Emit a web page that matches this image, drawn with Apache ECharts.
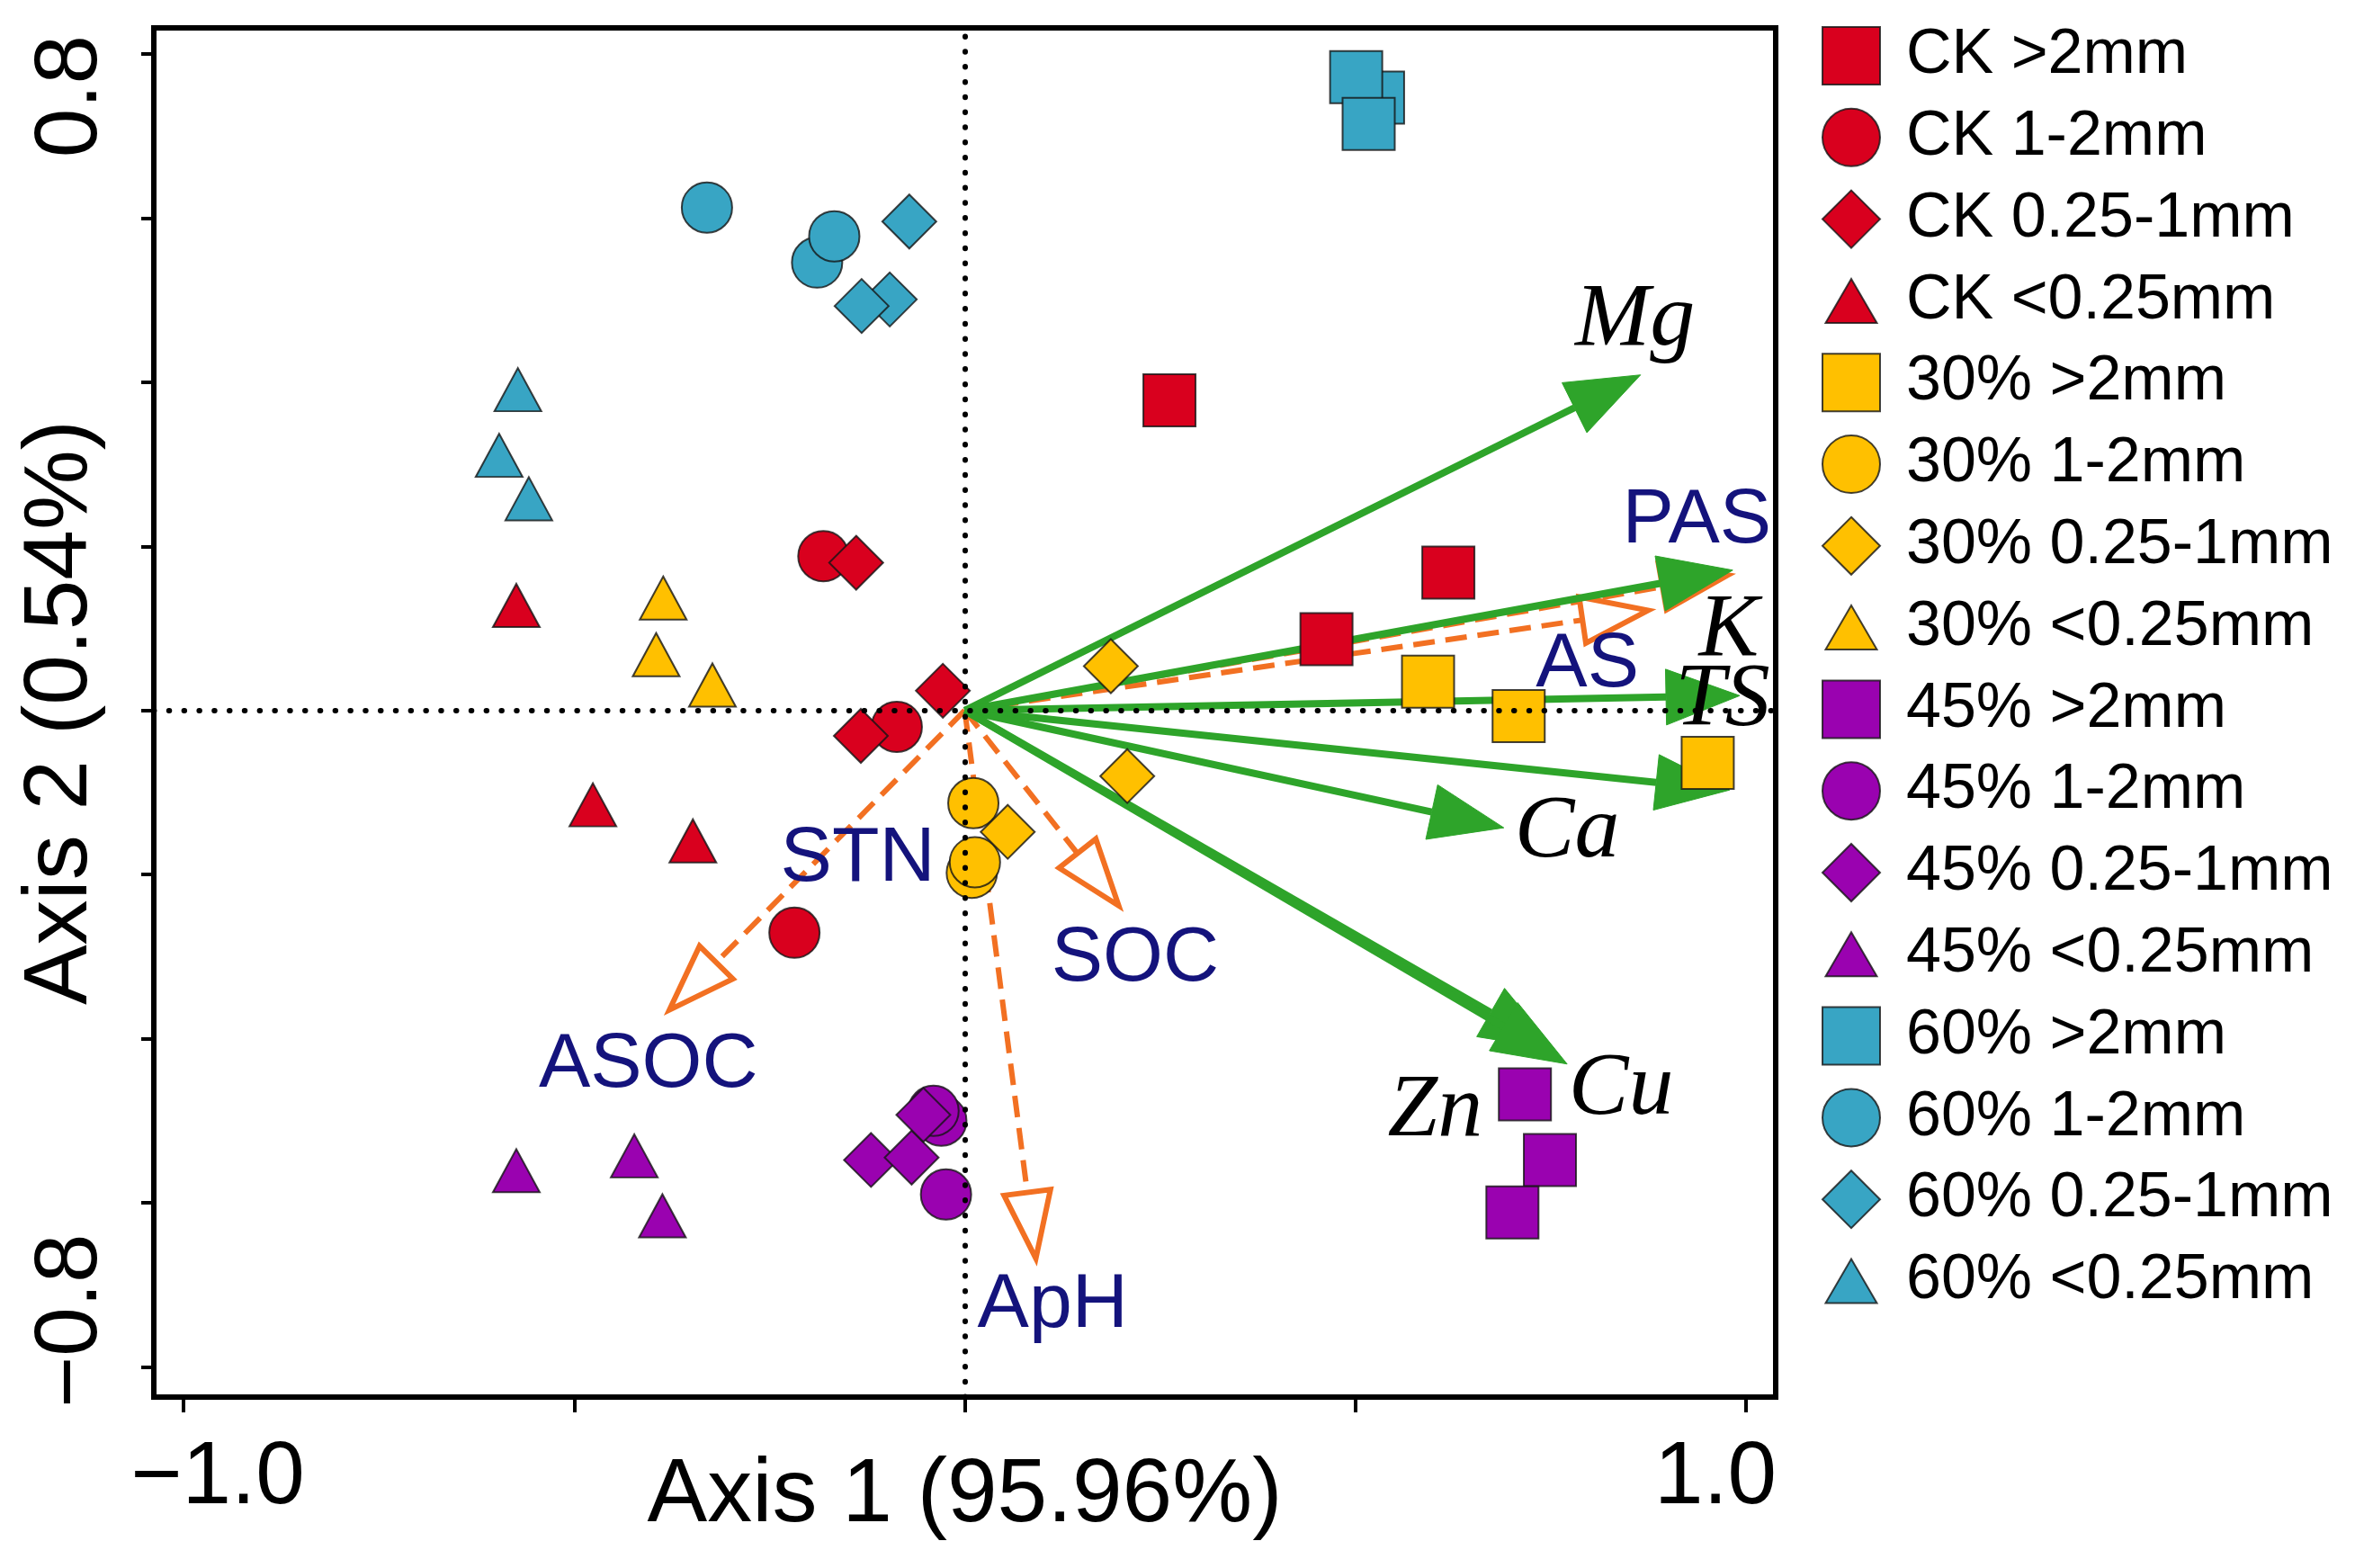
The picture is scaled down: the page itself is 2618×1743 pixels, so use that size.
<!DOCTYPE html>
<html>
<head>
<meta charset="utf-8">
<script src="https://cdn.jsdelivr.net/npm/echarts@6/dist/echarts.min.js"></script>
<style>
  html, body { margin: 0; padding: 0; background: #ffffff; }
  #chart { width: 2618px; height: 1743px; }
</style>
</head>
<body>
<div id="chart"></div>
<script>
// ---------- Axis ticks / labels ----------
const xTickValues = [-1, -0.5, 0, 0.5, 1];
const xLabelValues = [-1, 1];
const yTickValues = [-0.8, -0.6, -0.4, -0.2, 0, 0.2, 0.4, 0.6, 0.8];
const yLabelValues = [-0.8, 0.8];
const xAxisName = 'Axis 1 (95.96%)';
const yAxisName = 'Axis 2 (0.54%)';

// ---------- Sample scores (Axis 1, Axis 2) ----------
const CK_gt2   = [[0.262, 0.378], [0.619, 0.168], [0.463, 0.087]];
const CK_1_2   = [[-0.181, 0.188], [-0.087, -0.020], [-0.218, -0.271]];
const CK_025_1 = [[-0.139, 0.180], [-0.028, 0.024], [-0.133, -0.031]];
const CK_lt025 = [[-0.574, 0.128], [-0.476, -0.115], [-0.348, -0.159]];

const P30_gt2   = [[0.593, 0.035], [0.709, -0.007], [0.951, -0.064]];
const P30_1_2   = [[0.009, -0.198], [0.011, -0.113], [0.013, -0.185]];
const P30_025_1 = [[0.187, 0.054], [0.208, -0.080], [0.055, -0.148]];
const P30_lt025 = [[-0.386, 0.137], [-0.395, 0.068], [-0.323, 0.031]];

const P45_gt2   = [[0.717, -0.468], [0.749, -0.548], [0.701, -0.612]];
const P45_1_2   = [[-0.030, -0.500], [-0.040, -0.488], [-0.024, -0.590]];
const P45_025_1 = [[-0.120, -0.548], [-0.068, -0.545], [-0.053, -0.493]];
const P45_lt025 = [[-0.574, -0.561], [-0.423, -0.543], [-0.387, -0.616]];

const P60_gt2   = [[0.529, 0.747], [0.501, 0.772], [0.517, 0.715]];
const P60_1_2   = [[-0.330, 0.613], [-0.189, 0.546], [-0.167, 0.578]];
const P60_025_1 = [[-0.096, 0.501], [-0.071, 0.596], [-0.132, 0.493]];
const P60_lt025 = [[-0.572, 0.391], [-0.596, 0.311], [-0.558, 0.258]];

const treatments = ['CK', '30%', '45%', '60%'];
const sizeClasses = ['>2mm', '1-2mm', '0.25-1mm', '<0.25mm'];
const treatmentColors = ['#d9001e', '#ffc000', '#9a02b0', '#38a5c4'];
const sampleData = [
  [CK_gt2, CK_1_2, CK_025_1, CK_lt025],
  [P30_gt2, P30_1_2, P30_025_1, P30_lt025],
  [P45_gt2, P45_1_2, P45_025_1, P45_lt025],
  [P60_gt2, P60_1_2, P60_025_1, P60_lt025]
];

// ---------- Environmental vectors (green, solid) ----------
const envTipX = [0.865, 0.983, 0.992, 0.979, 0.690, 0.755, 0.771];
const envTipY = [0.409, 0.171, 0.018, -0.097, -0.143, -0.413, -0.431];
const envLabelNames = ['Mg', 'K', 'TS', 'Ca', 'Zn', 'Cu'];
const envLabelX = [0.858, 0.978, 0.970, 0.771, 0.602, 0.840];
const envLabelY = [0.475, 0.097, 0.012, -0.149, -0.489, -0.463];

// ---------- Soil property vectors (orange, dashed) ----------
const soilTipX = [0.977, 0.875, 0.197, -0.378, 0.091];
const soilTipY = [0.165, 0.122, -0.238, -0.365, -0.668];
const soilLabelNames = ['PAS', 'AS', 'STN', 'SOC', 'ASOC', 'ApH'];
const soilLabelX = [0.937, 0.797, -0.137, 0.218, -0.405, 0.1125];
const soilLabelY = [0.231, 0.055, -0.182, -0.303, -0.433, -0.726];

// ---------- Build ----------
const green = '#2ea42a';
const orange = '#f27022';
const navy = '#14137c';
const symbols = ['rect', 'circle', 'diamond', 'triangle'];
const symbolSizes = [58, 56, 60, [52, 48]];
const triIcon = 'path://M0,0M64,64M3.5,56.5L32,7.5L60.5,56.5Z';
const legendIcons = ['rect', 'circle', 'diamond', triIcon];
const sans = '"Liberation Sans", Arial, sans-serif';

function fmt(v) { return (v < 0 ? '\u2212' : '') + Math.abs(v).toFixed(1); }

function arrowRender(color, dashed, hollow, headLen, headHalf, lw) {
  return function (params, api) {
    const o = api.coord([0, 0]);
    const t = api.coord([api.value(0), api.value(1)]);
    const dx = t[0] - o[0], dy = t[1] - o[1];
    const L = Math.sqrt(dx * dx + dy * dy);
    const ux = dx / L, uy = dy / L;
    const bx = t[0] - ux * headLen, by = t[1] - uy * headLen;
    const px = -uy, py = ux;
    return {
      type: 'group',
      children: [
        {
          type: 'line',
          shape: { x1: o[0], y1: o[1], x2: bx, y2: by },
          style: { stroke: color, lineWidth: lw, lineDash: dashed ? [24, 12] : null, fill: null }
        },
        {
          type: 'polygon',
          shape: { points: [[t[0], t[1]], [bx + px * headHalf, by + py * headHalf], [bx - px * headHalf, by - py * headHalf]] },
          style: hollow ? { fill: '#ffffff', stroke: color, lineWidth: 6, lineJoin: 'miter' } : { fill: color, stroke: color, lineWidth: 1 }
        }
      ]
    };
  };
}

function textRender(names, font, color) {
  return function (params, api) {
    const p = api.coord([api.value(0), api.value(1)]);
    return {
      type: 'text',
      x: p[0], y: p[1],
      style: {
        text: names[params.dataIndex],
        font: font,
        fill: color,
        align: 'center',
        verticalAlign: 'middle'
      }
    };
  };
}

const series = [];
const legendData = [];

// reference dotted lines through the origin
series.push({
  type: 'scatter', name: '_ref', data: [], z: 1, silent: true,
  markLine: {
    silent: true, symbol: 'none', animation: false,
    label: { show: false },
    emphasis: { disabled: true },
    lineStyle: { color: '#000', width: 6, type: [0.5, 16.3], cap: 'round' },
    data: [{ xAxis: 0 }, { yAxis: 0 }]
  }
});

series.push({
  type: 'custom', name: '_soil', z: 2, silent: true,
  data: soilTipX.map((x, i) => [x, soilTipY[i]]),
  encode: { x: 0, y: 1 },
  renderItem: arrowRender(orange, true, true, 74, 26, 6)
});
series.push({
  type: 'custom', name: '_env', z: 3, silent: true,
  data: envTipX.map((x, i) => [x, envTipY[i]]),
  encode: { x: 0, y: 1 },
  renderItem: arrowRender(green, false, false, 82, 31, 8)
});

treatments.forEach((tr, ti) => {
  sizeClasses.forEach((sc, si) => {
    const name = tr + ' ' + sc;
    legendData.push({ name: name, icon: legendIcons[si] });
    series.push({
      type: 'scatter', name: name, z: 4,
      data: sampleData[ti][si],
      symbol: symbols[si],
      symbolSize: symbolSizes[si],
      itemStyle: { color: treatmentColors[ti], borderColor: 'rgba(20,20,20,0.8)', borderWidth: 2, opacity: 1 },
      emphasis: { disabled: true },
      clip: false
    });
  });
});

series.push({
  type: 'custom', name: '_envLabels', z: 5, silent: true,
  data: envLabelX.map((x, i) => [x, envLabelY[i]]),
  encode: { x: 0, y: 1 },
  renderItem: textRender(envLabelNames, 'italic 100px "Liberation Serif", "DejaVu Serif", serif', '#000000')
});
series.push({
  type: 'custom', name: '_soilLabels', z: 5, silent: true,
  data: soilLabelX.map((x, i) => [x, soilLabelY[i]]),
  encode: { x: 0, y: 1 },
  renderItem: textRender(soilLabelNames, '86px "Liberation Sans", Arial, sans-serif', navy)
});

const chart = echarts.init(document.getElementById('chart'), null, { renderer: 'canvas' });
chart.setOption({
  animation: false,
  backgroundColor: '#ffffff',
  textStyle: { fontFamily: sans },
  grid: {
    left: 171, right: 644, top: 31, bottom: 190,
    show: true, borderColor: '#000', borderWidth: 6, backgroundColor: 'transparent',
    containLabel: false, outerBoundsMode: 'none'
  },
  legend: {
    orient: 'vertical', left: 2020, top: 22,
    itemWidth: 64, itemHeight: 64, itemGap: 20.8,
    selectedMode: false,
    data: legendData,
    textStyle: { fontSize: 70, lineHeight: 64, color: '#000', fontFamily: sans, padding: [0, 0, 0, 24] }
  },
  xAxis: {
    type: 'value', min: -1.038, max: 1.038,
    name: xAxisName, nameLocation: 'middle', nameGap: 60, nameMoveOverlap: false,
    nameTextStyle: { fontSize: 100, lineHeight: 100, color: '#000', fontFamily: sans },
    splitLine: { show: false },
    axisLine: { show: true, onZero: false, lineStyle: { color: '#000', width: 6 } },
    axisTick: { show: true, customValues: xTickValues, length: 17, lineStyle: { color: '#000', width: 4 } },
    axisLabel: {
      show: true, customValues: xLabelValues, margin: 42,
      formatter: v => (v < 0 ? '{lo|' : '{hi|') + fmt(v) + '}',
      rich: {
        lo: { fontSize: 98, lineHeight: 98, color: '#000', padding: [0, 0, 0, 76], fontFamily: sans },
        hi: { fontSize: 98, lineHeight: 98, color: '#000', padding: [0, 68, 0, 0], fontFamily: sans }
      }
    }
  },
  yAxis: {
    type: 'value', min: -0.837, max: 0.832,
    name: yAxisName, nameLocation: 'middle', nameGap: 53, nameMoveOverlap: false,
    nameTextStyle: { fontSize: 100, lineHeight: 100, color: '#000', fontFamily: sans },
    splitLine: { show: false },
    axisLine: { show: true, onZero: false, lineStyle: { color: '#000', width: 6 } },
    axisTick: { show: true, customValues: yTickValues, length: 14, lineStyle: { color: '#000', width: 4 } },
    axisLabel: {
      show: true, customValues: yLabelValues, margin: 42, rotate: 90,
      formatter: v => (v < 0 ? '{lo|' : '{hi|') + fmt(v) + '}',
      rich: {
        lo: { fontSize: 98, lineHeight: 98, color: '#000', padding: [0, 0, 0, 102], fontFamily: sans },
        hi: { fontSize: 98, lineHeight: 98, color: '#000', padding: [0, 94, 0, 0], fontFamily: sans }
      }
    }
  },
  series: series
});
</script>
</body>
</html>
